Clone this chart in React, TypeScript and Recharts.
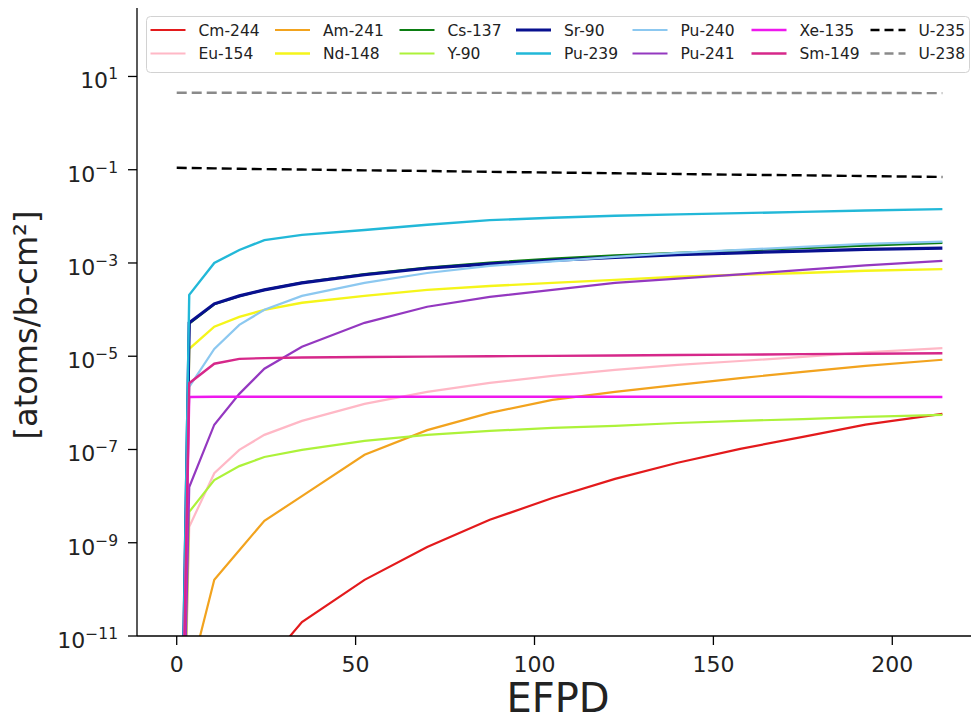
import React from 'react';
import { LineChart, Line, XAxis, YAxis } from 'recharts';

// EFPD burn steps
const efpd = [0, 3.5, 10.5, 17.5, 24.5, 35, 52.5, 70, 87.5, 105, 122.5, 140, 157.5, 175, 192.5, 214];

// number densities [atoms/b-cm2]
const cm244 = [1e-20, 1e-18, 3e-15, 2e-13, 2.2e-12, 2.0e-11, 1.6e-10, 8.1e-10, 3.1e-9, 9.1e-9, 2.34e-8, 5.2e-8, 1.03e-7, 1.86e-7, 3.4e-7, 5.8e-7];
const eu154 = [1e-20, 2.2e-9, 3.1e-8, 9.8e-8, 2.06e-7, 4.1e-7, 9.5e-7, 1.72e-6, 2.68e-6, 3.8e-6, 5.1e-6, 6.5e-6, 7.9e-6, 9.7e-6, 1.21e-5, 1.49e-5];
const am241 = [1e-20, 1.2e-12, 1.6e-10, 6.9e-10, 2.95e-9, 1.0e-8, 7.7e-8, 2.6e-7, 6.1e-7, 1.16e-6, 1.72e-6, 2.43e-6, 3.4e-6, 4.6e-6, 6.2e-6, 8.4e-6];
const nd148 = [1e-20, 1.44e-5, 4.3e-5, 7.0e-5, 9.9e-5, 1.4e-4, 1.97e-4, 2.65e-4, 3.2e-4, 3.75e-4, 4.35e-4, 5.05e-4, 5.6e-4, 6.1e-4, 6.8e-4, 7.4e-4];
const cs137 = [1e-20, 5.0e-5, 1.3e-4, 1.95e-4, 2.65e-4, 3.8e-4, 5.8e-4, 8.0e-4, 1.02e-3, 1.24e-3, 1.45e-3, 1.65e-3, 1.86e-3, 2.08e-3, 2.35e-3, 2.7e-3];
const y90 = [1e-20, 4.6e-9, 2.2e-8, 4.4e-8, 6.9e-8, 9.8e-8, 1.53e-7, 2.06e-7, 2.5e-7, 2.9e-7, 3.2e-7, 3.7e-7, 4.1e-7, 4.5e-7, 5.0e-7, 5.5e-7];
const sr90 = [1e-20, 5.2e-5, 1.33e-4, 1.97e-4, 2.65e-4, 3.75e-4, 5.6e-4, 7.7e-4, 9.6e-4, 1.14e-3, 1.32e-3, 1.5e-3, 1.65e-3, 1.8e-3, 1.95e-3, 2.08e-3];
const pu239 = [1e-20, 2.07e-4, 1.0e-3, 1.9e-3, 3.1e-3, 4.0e-3, 5.1e-3, 6.6e-3, 8.3e-3, 9.3e-3, 1.03e-2, 1.1e-2, 1.17e-2, 1.25e-2, 1.33e-2, 1.43e-2];
const pu240 = [1e-20, 2.2e-6, 1.44e-5, 4.7e-5, 9.9e-5, 1.97e-4, 3.75e-4, 6.1e-4, 8.7e-4, 1.08e-3, 1.35e-3, 1.65e-3, 1.91e-3, 2.22e-3, 2.58e-3, 2.88e-3];
const pu241 = [1e-20, 1.57e-8, 3.4e-7, 1.56e-6, 5.4e-6, 1.59e-5, 5.2e-5, 1.15e-4, 1.88e-4, 2.65e-4, 3.75e-4, 4.6e-4, 5.7e-4, 7.1e-4, 8.9e-4, 1.11e-3];
const xe135 = [1e-20, 1.34e-6, 1.35e-6, 1.35e-6, 1.35e-6, 1.35e-6, 1.35e-6, 1.35e-6, 1.35e-6, 1.35e-6, 1.35e-6, 1.35e-6, 1.35e-6, 1.35e-6, 1.34e-6, 1.34e-6];
const sm149 = [1e-20, 2.64e-6, 6.9e-6, 8.8e-6, 9.1e-6, 9.4e-6, 9.6e-6, 9.8e-6, 1.0e-5, 1.02e-5, 1.04e-5, 1.06e-5, 1.08e-5, 1.11e-5, 1.13e-5, 1.16e-5];
const u235 = [0.11, 0.109, 0.107, 0.105, 0.103, 0.101, 0.097, 0.094, 0.09, 0.087, 0.084, 0.081, 0.078, 0.076, 0.073, 0.07];
const u238 = [4.47, 4.47, 4.46, 4.46, 4.46, 4.45, 4.45, 4.44, 4.44, 4.43, 4.43, 4.42, 4.42, 4.41, 4.41, 4.4];

const xTicks = [0, 50, 100, 150, 200];
const yTicks = [1e-11, 1e-9, 1e-7, 1e-5, 1e-3, 1e-1, 10];

// legend order is column-major, same as plotting order
const series = [
  { name: 'Cm-244', values: cm244, color: '#e31a1c', width: 2.2 },
  { name: 'Eu-154', values: eu154, color: '#ffb8c6', width: 2.2 },
  { name: 'Am-241', values: am241, color: '#f2a31e', width: 2.2 },
  { name: 'Nd-148', values: nd148, color: '#f5f51a', width: 2.4 },
  { name: 'Cs-137', values: cs137, color: '#0b7d12', width: 2.2 },
  { name: 'Y-90', values: y90, color: '#adf23a', width: 2.2 },
  { name: 'Sr-90', values: sr90, color: '#08108f', width: 3.2 },
  { name: 'Pu-239', values: pu239, color: '#22b8d8', width: 2.4 },
  { name: 'Pu-240', values: pu240, color: '#8cc8f0', width: 2.2 },
  { name: 'Pu-241', values: pu241, color: '#9438c0', width: 2.2 },
  { name: 'Xe-135', values: xe135, color: '#ee18ee', width: 2.4 },
  { name: 'Sm-149', values: sm149, color: '#d6288a', width: 2.4 },
  { name: 'U-235', values: u235, color: '#000000', width: 2.4, dash: '10 5' },
  { name: 'U-238', values: u238, color: '#8a8a8a', width: 2.4, dash: '10 5' },
];

const data = efpd.map((t, i) => {
  const row: Record<string, number> = { t };
  series.forEach((s) => { row[s.name] = s.values[i]; });
  return row;
});

const FONT = '"DejaVu Sans", sans-serif';
const legendCols = [150.5, 275, 399.5, 516, 632.5, 751.5, 870.5];
const legendRows = [30, 53.5];

function LogTick(props: any) {
  const { x, y, payload } = props;
  const exp = Math.round(Math.log10(payload.value));
  const sup = exp < 0 ? '\u2212' + Math.abs(exp) : String(exp);
  return (
    <text x={x} y={y + 12} textAnchor="end" fontFamily={FONT} fill="#222">
      <tspan fontSize={22}>10</tspan>
      <tspan fontSize={15.5} dy={-9}>{sup}</tspan>
    </text>
  );
}

function ChartLegend() {
  return (
    <g>
      <rect x={146.5} y={16.5} width={823} height={56} rx={4} fill="#fff" fillOpacity={0.85} stroke="#d2d2d2" />
      {series.map((s, i) => {
        const cx = legendCols[Math.floor(i / 2)];
        const cy = legendRows[i % 2];
        return (
          <g key={s.name}>
            <line x1={cx} x2={cx + 35} y1={cy} y2={cy} stroke={s.color} strokeWidth={s.width} strokeDasharray={s.dash ? '9 5' : undefined} />
            <text x={cx + 48} y={cy + 5.6} fontSize={15.5} fontFamily={FONT} fill="#222">{s.name}</text>
          </g>
        );
      })}
    </g>
  );
}

export default function App() {
  return (
    <div style={{ position: 'absolute', left: 0, top: 0, background: '#fff' }}>
      <LineChart width={971} height={722} data={data} margin={{ top: 8, right: 0, bottom: 0, left: 0 }}>
        <XAxis
          dataKey="t"
          type="number"
          domain={[-11.1, 222]}
          ticks={xTicks}
          allowDataOverflow
          height={86}
          tickSize={9}
          tickMargin={11}
          stroke="#000"
          strokeWidth={1.3}
          tick={{ fontSize: 22, fontFamily: FONT, fill: '#222' }}
        />
        <XAxis xAxisId="top" orientation="top" dataKey="t" type="number" domain={[-11.1, 222]} height={0} tick={false} tickLine={false} stroke="#000" strokeWidth={1.3} />
        <YAxis
          type="number"
          scale="log"
          domain={[1e-11, 294]}
          allowDataOverflow
          ticks={yTicks}
          width={137}
          tickSize={9}
          tickMargin={10}
          stroke="#000"
          strokeWidth={1.3}
          tick={<LogTick />}
        />
        {series.map((s) => (
          <Line
            key={s.name}
            dataKey={s.name}
            stroke={s.color}
            strokeWidth={s.width}
            strokeDasharray={s.dash}
            dot={false}
            activeDot={false}
            isAnimationActive={false}
          />
        ))}
        <ChartLegend />
        <text x={37} y={325} transform="rotate(-90 37 325)" textAnchor="middle" fontSize={32} fontFamily={FONT} fill="#222">[atoms/b-cm²]</text>
        <text x={558} y={712} textAnchor="middle" fontSize={40} fontFamily={FONT} fill="#222">EFPD</text>
      </LineChart>
    </div>
  );
}
